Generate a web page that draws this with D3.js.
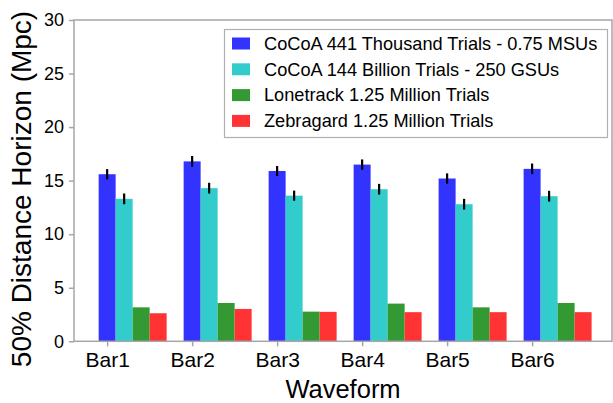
<!DOCTYPE html>
<html>
<head>
<meta charset="utf-8">
<script src="https://cdn.jsdelivr.net/npm/d3@7"></script>
<style>
  html, body { margin: 0; padding: 0; background: #fff; }
  svg { display: block; font-family: "Liberation Sans", Arial, sans-serif; }
</style>
</head>
<body>
<svg id="chart" width="613" height="403"></svg>
<script>
// Waveform categories
const categories = ["Bar1", "Bar2", "Bar3", "Bar4", "Bar5", "Bar6"];

// Series names (legend order)
const seriesNames = [
  "CoCoA 441 Thousand Trials - 0.75 MSUs",
  "CoCoA 144 Billion Trials - 250 GSUs",
  "Lonetrack 1.25 Million Trials",
  "Zebragard 1.25 Million Trials"
];
const seriesColors = ["#3333ff", "#33cccc", "#339933", "#ff3333"];

// 50% distance horizon (Mpc) per waveform
const cocoaMSU   = [15.6, 16.8, 15.9, 16.5, 15.2, 16.1];
const cocoaGSU   = [13.3, 14.3, 13.6, 14.2, 12.8, 13.55];
const lonetrack  = [3.17, 3.58, 2.77, 3.52, 3.17, 3.58];
const zebragard  = [2.62, 3.02, 2.75, 2.72, 2.72, 2.72];

// Error bar half-widths (Mpc); null = no error bar
const cocoaMSUErr = [0.48, 0.5, 0.47, 0.48, 0.48, 0.5];
const cocoaGSUErr = [0.5, 0.5, 0.47, 0.5, 0.5, 0.5];

const yTicks = [0, 5, 10, 15, 20, 25, 30];

const seriesValues = [cocoaMSU, cocoaGSU, lonetrack, zebragard];
const seriesErrors = [cocoaMSUErr, cocoaGSUErr, null, null];

const svg = d3.select("#chart");
const plotLeft = 74, plotRight = 612, plotTop = 20, plotBottom = 341.3;
const barW = 0.2;

const x = d3.scaleLinear().domain([-0.39, 5.94]).range([plotLeft, plotRight]);
const y = d3.scaleLinear().domain([0, 30]).range([plotBottom, plotTop]);

// Bars
seriesValues.forEach((vals, s) => {
  svg.append("g").selectAll("rect")
    .data(vals)
    .join("rect")
    .attr("x", (d, i) => x(i + s * barW - barW / 2))
    .attr("width", (d, i) => x(i + s * barW + barW / 2) - x(i + s * barW - barW / 2))
    .attr("y", d => y(d))
    .attr("height", d => y(0) - y(d))
    .attr("fill", seriesColors[s]);
});

// Error bars
seriesErrors.forEach((errs, s) => {
  if (!errs) return;
  const vals = seriesValues[s];
  svg.append("g").selectAll("line")
    .data(errs)
    .join("line")
    .attr("x1", (d, i) => x(i + s * barW))
    .attr("x2", (d, i) => x(i + s * barW))
    .attr("y1", (d, i) => y(vals[i] - d))
    .attr("y2", (d, i) => y(vals[i] + d))
    .attr("stroke", "#000")
    .attr("stroke-width", 2.2);
});

// Frame
const frameColor = "#a6a6a6";
svg.append("rect")
  .attr("x", plotLeft).attr("y", plotTop)
  .attr("width", plotRight - plotLeft).attr("height", plotBottom - plotTop)
  .attr("fill", "none").attr("stroke", frameColor).attr("stroke-width", 1.5);

// Y axis
const yAxis = d3.axisLeft(y).tickValues(yTicks).tickSize(5).tickPadding(5);
const gy = svg.append("g").attr("transform", `translate(${plotLeft},0)`).call(yAxis);
gy.select(".domain").remove();
gy.selectAll(".tick line").attr("stroke", frameColor).attr("stroke-width", 1.5);
gy.selectAll(".tick text").attr("font-size", 18).attr("fill", "#000")
  .attr("font-family", "Liberation Sans, Arial, sans-serif");

// X axis
const xAxis = d3.axisBottom(x).tickValues(d3.range(categories.length))
  .tickFormat(i => categories[i]).tickSize(5).tickPadding(6);
const gx = svg.append("g").attr("transform", `translate(0,${plotBottom})`).call(xAxis);
gx.select(".domain").remove();
gx.selectAll(".tick line").attr("stroke", frameColor).attr("stroke-width", 1.5);
gx.selectAll(".tick text").attr("font-size", 21).attr("fill", "#000")
  .attr("font-family", "Liberation Sans, Arial, sans-serif");

// Axis titles
svg.append("text")
  .attr("x", (plotLeft + plotRight) / 2).attr("y", 398)
  .attr("text-anchor", "middle").attr("font-size", 25.5).attr("fill", "#000")
  .text("Waveform");

svg.append("text")
  .attr("transform", `translate(31,189) rotate(-90)`)
  .attr("text-anchor", "middle").attr("font-size", 28).attr("fill", "#000")
  .text("50% Distance Horizon (Mpc)");

// Legend
const legend = svg.append("g");
legend.append("rect")
  .attr("x", 224.5).attr("y", 29.5).attr("width", 383).attr("height", 108)
  .attr("fill", "#fff").attr("stroke", "#b0b0b0").attr("stroke-width", 1.2);
seriesNames.forEach((name, i) => {
  const cy = 43.5 + i * 25.8;
  legend.append("rect")
    .attr("x", 232).attr("y", cy - 6).attr("width", 18).attr("height", 12)
    .attr("fill", seriesColors[i]);
  legend.append("text")
    .attr("x", 264).attr("y", cy).attr("dy", "0.35em")
    .attr("font-size", 18.2).attr("fill", "#000")
    .text(name);
});
</script>
</body>
</html>
